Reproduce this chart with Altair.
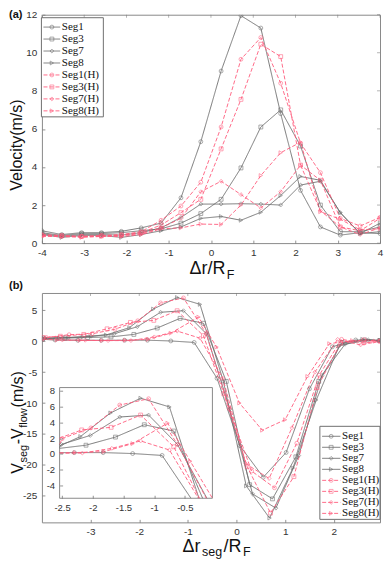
import altair as alt
import pandas as pd

ORDER = ["Seg1", "Seg3", "Seg7", "Seg8", "Seg1(H)", "Seg3(H)", "Seg7(H)", "Seg8(H)"]
GRAY = "#6a6a6a"
RED = "#ff5c7c"
COLORS = [GRAY] * 4 + [RED] * 4
SHAPES = ["circle", "square", "diamond", "triangle-right"] * 2
DASHES = [[1, 0]] * 4 + [[4, 2]] * 4

# ---------------- panel (a) ----------------
XA = [-4, -3.53, -3.06, -2.59, -2.12, -1.65, -1.18, -0.71, -0.24, 0.24, 0.71, 1.18, 1.65, 2.12, 2.59, 3.06, 3.53, 4]
VA_SEG1 = [0.65, 0.45, 0.55, 0.55, 0.62, 0.8, 1.05, 2.38, 5.33, 9.04, 11.95, 11.3, 6.8, 2.77, 0.85, 0.42, 0.55, 0.5]
VA_SEG3 = [0.55, 0.4, 0.5, 0.5, 0.55, 0.65, 0.75, 1.05, 1.55, 2.3, 3.95, 6.1, 7.0, 5.1, 2.0, 0.6, 0.6, 0.85]
VA_SEG7 = [0.5, 0.35, 0.45, 0.45, 0.42, 0.55, 0.8, 1.35, 2.05, 2.05, 2.07, 2.05, 2.0, 3.05, 3.25, 1.6, 0.5, 0.6]
VA_SEG8 = [0.45, 0.3, 0.4, 0.4, 0.3, 0.45, 0.65, 0.85, 1.3, 1.4, 1.2, 1.62, 2.5, 3.5, 3.3, 1.6, 0.5, 1.05]
VA_SEG1H = [0.45, 0.4, 0.35, 0.4, 0.45, 0.6, 1.2, 1.95, 3.2, 6.1, 9.66, 10.8, 8.4, 5.25, 3.7, 1.3, 0.9, 1.35]
VA_SEG3H = [0.4, 0.38, 0.35, 0.38, 0.42, 0.55, 0.95, 1.6, 2.3, 4.95, 7.55, 10.45, 9.8, 4.1, 3.3, 0.85, 0.65, 1.3]
VA_SEG7H = [0.4, 0.35, 0.35, 0.35, 0.4, 0.5, 0.8, 1.3, 2.7, 3.25, 2.55, 1.85, 2.7, 4.1, 1.7, 0.85, 0.45, 0.8]
VA_SEG8H = [0.35, 0.35, 0.3, 0.35, 0.35, 0.45, 0.75, 0.8, 1.0, 0.98, 2.0, 3.55, 4.75, 5.3, 1.65, 1.25, 0.7, 0.75]
XA_TICKS = [-4, -3, -2, -1, 0, 1, 2, 3, 4]
YA_TICKS = [0, 2, 4, 6, 8, 10, 12]
XA_DOM = [-4, 4]
YA_DOM = [0, 12]

# ---------------- panel (b) ----------------
XB_SEG1 = [-3.98, -3.73, -3.26, -2.78, -2.30, -1.83, -1.35, -0.87, -0.40, 0.07, 0.55, 1.02, 1.50, 1.97, 2.45, 2.92]
VB_SEG1 = [0.3, 0.2, 0.15, 0.15, 0.16, 0.16, 0.04, -0.2, -6.0, -16.9, -22.0, -18.0, -7.7, -0.9, 0.2, 0.1]
XB_SEG3 = [-3.98, -3.53, -3.06, -2.58, -2.11, -1.63, -1.16, -0.68, -0.21, 0.27, 0.74, 1.22, 1.69, 2.17, 2.64, 2.95]
VB_SEG3 = [0.5, 0.5, 0.6, 0.7, 1.1, 2.13, 3.7, 2.9, -6.5, -23.2, -25.5, -18.7, -6.5, -0.2, 0.2, 0.1]
XB_SEG7 = [-3.94, -3.46, -2.99, -2.51, -2.04, -1.56, -1.09, -0.62, -0.14, 0.33, 0.81, 1.28, 1.76, 2.23, 2.71, 2.95]
VB_SEG7 = [0.5, 0.6, 0.8, 1.2, 2.34, 4.68, 4.93, 1.2, -11.0, -24.7, -27.0, -18.5, -5.5, -0.5, 0.2, 0.1]
XB_SEG8 = [-3.98, -3.64, -3.16, -2.68, -2.20, -1.71, -1.22, -0.75, -0.27, 0.20, 0.68, 1.16, 1.64, 2.11, 2.59, 2.95]
VB_SEG8 = [0.4, 0.5, 0.7, 1.0, 2.2, 5.2, 7.07, 5.96, -6.5, -23.4, -28.6, -20.5, -9.5, -0.8, 0.3, 0.1]
XB_SEG1H = [-3.91, -3.44, -2.97, -2.50, -2.03, -1.56, -1.09, -0.62, -0.15, 0.31, 0.78, 1.24, 1.70, 2.16, 2.62, 2.95]
VB_SEG1H = [0.6, 1.05, 1.2, 1.93, 3.3, 6.2, 7.0, 1.2, -10.9, -21.0, -23.7, -16.5, -5.5, 0.3, -0.3, 0.0]
XB_SEG3H = [-3.98, -3.62, -3.14, -2.66, -2.18, -1.70, -1.22, -0.68, -0.26, 0.22, 0.70, 1.18, 1.66, 2.14, 2.62, 2.95]
VB_SEG3H = [0.6, 0.8, 1.1, 2.0, 3.04, 3.37, 4.93, 0.9, -8.5, -20.3, -27.8, -21.9, -7.5, -0.3, 0.2, 0.0]
XB_SEG7H = [-3.98, -3.58, -3.11, -2.64, -2.17, -1.69, -1.22, -0.75, -0.28, 0.19, 0.67, 1.14, 1.61, 2.08, 2.55, 2.95]
VB_SEG7H = [0.3, 0.2, 0.15, 0.1, 0.1, 0.7, 1.64, 0.49, -6.0, -19.8, -22.2, -14.0, -5.0, 0.3, -0.6, 0.0]
XB_SEG8H = [-3.69, -3.22, -2.76, -2.29, -1.82, -1.35, -0.78, -0.41, 0.06, 0.53, 1.00, 1.46, 1.91, 2.38, 2.85]
VB_SEG8H = [0.2, 0.15, 0.1, 0.16, 0.28, 1.3, 3.9, -0.95, -10.0, -14.4, -12.7, -5.7, -0.4, 0.1, 0.0]
XB_TICKS = [-3, -2, -1, 0, 1, 2]
YB_TICKS = [-25, -20, -15, -10, -5, 0, 5]
XB_DOM = [-4.0, 2.95]
YB_DOM = [-29.3, 7.8]
# inset (zoom of panel b)
XI_TICKS = [-2.5, -2, -1.5, -1, -0.5]
YI_TICKS = [-4, -2, 0, 2, 4, 6, 8]
XI_DOM = [-2.54, -0.05]
YI_DOM = [-5.64, 8.42]
INSET_BOX = [-3.636, -0.495, -25.4, -7.5]  # frame of the inset in panel-b data units

TOP_V = dict(zip(ORDER, [VA_SEG1, VA_SEG3, VA_SEG7, VA_SEG8, VA_SEG1H, VA_SEG3H, VA_SEG7H, VA_SEG8H]))
BOT_X = dict(zip(ORDER, [XB_SEG1, XB_SEG3, XB_SEG7, XB_SEG8, XB_SEG1H, XB_SEG3H, XB_SEG7H, XB_SEG8H]))
BOT_V = dict(zip(ORDER, [VB_SEG1, VB_SEG3, VB_SEG7, VB_SEG8, VB_SEG1H, VB_SEG3H, VB_SEG7H, VB_SEG8H]))

W1, H1 = 339, 229
W2, H2 = 339, 230


def rows_for(s, xs, vs, idx):
    return [{"series": s, "i": k, "x": xs[k], "v": vs[k]} for k in idx]


top_rows, bot_rows, in_line_rows, in_pt_rows = [], [], [], []
for s in ORDER:
    top_rows += rows_for(s, XA, TOP_V[s], range(len(XA)))
    xs, vs = BOT_X[s], BOT_V[s]
    bot_rows += rows_for(s, xs, vs, range(len(xs)))
    inside = [k for k in range(len(xs)) if XI_DOM[0] <= xs[k] <= XI_DOM[1]]
    keep = []
    for k in range(max(inside[0] - 1, 0), len(xs)):
        if k > inside[-1] + 1:
            break
        if k == inside[-1] + 1 and not (YI_DOM[0] <= vs[inside[-1]] <= YI_DOM[1]):
            break
        keep.append(k)
        if k >= inside[0] and vs[k] < YI_DOM[0]:
            break
    in_line_rows += rows_for(s, xs, vs, keep)
    in_pt_rows += rows_for(s, xs, vs, [k for k in inside if YI_DOM[0] <= vs[k] <= YI_DOM[1]])

top_df = pd.DataFrame(top_rows)
bot_df = pd.DataFrame(bot_rows)
in_line_df = pd.DataFrame(in_line_rows)
in_pt_df = pd.DataFrame(in_pt_rows)
LEG_DF = pd.DataFrame({"series": ORDER})
NOTE = pd.DataFrame({"k": [0]})
TICK_COLOR = "#7a7a7a"


def axis(orient, values, pad=4, offset=-3, z=0, size=10):
    return alt.Axis(
        orient=orient, values=values, title=None, grid=False, domain=False,
        tickSize=3, tickColor=TICK_COLOR, tickWidth=0.8, offset=offset,
        labelFont="Liberation Sans", labelFontSize=size, minExtent=0,
        labelColor="#333", labelPadding=pad, labelFlush=False, labelOverlap=False,
        labelExpr="'' + datum.value", zindex=z,
    )


def text(t, x, y, size, angle=0, align="left", baseline="alphabetic", weight="normal"):
    return alt.Chart(NOTE).mark_text(
        text=t, fontSize=size, angle=angle, align=align, baseline=baseline,
        fontWeight=weight, font="Liberation Sans", color="#111",
    ).encode(x=alt.value(x), y=alt.value(y))


def edge_ticks(xt, yt, xscale, yscale, width):
    """Inward ticks along the top and right frame edges."""
    top_t = alt.Chart(pd.DataFrame({"t": xt})).mark_tick(
        orient="vertical", size=3, thickness=0.8, color=TICK_COLOR
    ).encode(x=alt.X("t:Q", scale=xscale, axis=None), y=alt.value(1.5))
    right_t = alt.Chart(pd.DataFrame({"t": yt})).mark_tick(
        orient="horizontal", size=3, thickness=0.8, color=TICK_COLOR
    ).encode(y=alt.Y("t:Q", scale=yscale, axis=None), x=alt.value(width - 1.5))
    return top_t, right_t


COL = alt.Color("series:N", scale=alt.Scale(domain=ORDER, range=COLORS), legend=None)
DASH = alt.StrokeDash("series:N", scale=alt.Scale(domain=ORDER, range=DASHES), legend=None)
SHAPE = alt.Shape("series:N", scale=alt.Scale(domain=ORDER, range=SHAPES), legend=None)


def series_layers(df_l, df_p, xscale, yscale, xaxis, yaxis):
    lines = alt.Chart(df_l).mark_line(strokeWidth=0.9, clip=True).encode(
        x=alt.X("x:Q", scale=xscale, axis=xaxis),
        y=alt.Y("v:Q", scale=yscale, axis=yaxis),
        color=COL, strokeDash=DASH, order="i:Q",
    )
    pts = alt.Chart(df_p).mark_point(filled=False, size=15, strokeWidth=0.8, clip=True).encode(
        x=alt.X("x:Q", scale=xscale, axis=xaxis),
        y=alt.Y("v:Q", scale=yscale, axis=yaxis),
        color=COL, shape=SHAPE,
    )
    return lines, pts


def legend_layer(box, y_first, y_last, x_line, x_mark, x_label):
    ysc = alt.Scale(type="point", domain=ORDER, range=[y_first, y_last], padding=0)
    yenc = alt.Y("series:N", scale=ysc, axis=None)
    frame = alt.Chart(NOTE).mark_rect(fill="white", stroke="#6f6f6f", strokeWidth=1).encode(
        x=alt.value(box[0]), x2=alt.value(box[1]), y=alt.value(box[2]), y2=alt.value(box[3])
    )
    rules = alt.Chart(LEG_DF).mark_rule(strokeWidth=0.9).encode(
        x=alt.value(x_line[0]), x2=alt.value(x_line[1]), y=yenc, color=COL, strokeDash=DASH
    )
    marks = alt.Chart(LEG_DF).mark_point(filled=False, size=15, strokeWidth=0.8).encode(
        x=alt.value(x_mark), y=yenc, color=COL, shape=SHAPE
    )
    labels = alt.Chart(LEG_DF).mark_text(
        align="left", baseline="middle", font="Liberation Serif", fontSize=11, color="#111"
    ).encode(x=alt.value(x_label), y=yenc, text="series:N")
    return alt.layer(frame, rules, marks, labels)


# ---------------- top chart ----------------
xs_a = alt.Scale(domain=XA_DOM, nice=False, zero=False)
ys_a = alt.Scale(domain=YA_DOM, nice=False, zero=False)
la, pa = series_layers(top_df, top_df, xs_a, ys_a, axis("bottom", XA_TICKS, pad=4), axis("left", YA_TICKS, pad=5))
tt_a, rt_a = edge_ticks(XA_TICKS, YA_TICKS, xs_a, ys_a, W1)
tx_a = W1 / 2 + 14.6
main_a = alt.layer(
    la, pa,
    text("(a)", -33, -5.5, 11, baseline="top", weight="bold"),
    text("Velocity(m/s)", -20, 0.571 * H1, 16, angle=270, align="center"),
    text("\u0394r/R", tx_a, H1 + 31, 18, align="right"),
    text("F", tx_a + 1.2, H1 + 35.5, 12.5),
)
leg_a = legend_layer([-0.5, 61.6, 3, 102.4], 12.4, 96.4, [1.6, 18.3], 10, 20)
top = alt.layer(main_a, tt_a, rt_a, leg_a).resolve_scale(x="independent", y="independent").properties(width=W1, height=H1)

# ---------------- bottom chart ----------------
xs_b = alt.Scale(domain=XB_DOM, nice=False, zero=False)
ys_b = alt.Scale(domain=YB_DOM, nice=False, zero=False)
lb, pb = series_layers(bot_df, bot_df, xs_b, ys_b, axis("bottom", XB_TICKS, pad=4), axis("left", YB_TICKS, pad=5))
tt_b, rt_b = edge_ticks(XB_TICKS, YB_TICKS, xs_b, ys_b, W2)
yb = 0.788 * H2
bx = -18.5
tb = W2 / 2 - 10.5
main_b = alt.layer(
    lb, pb,
    text("(b)", -33, -13, 11, baseline="top", weight="bold"),
    text("V", bx, yb, 16, angle=270),
    text("seg", bx + 3.5, yb - 11.2, 11, angle=270),
    text("-V", bx, yb - 29.5, 16, angle=270),
    text("flow", bx + 3.5, yb - 46.0, 11, angle=270),
    text(" (m/s)", bx, yb - 66.5, 16, angle=270),
    text("\u0394r", tb, H2 + 30, 18, align="right"),
    text("seg", tb + 1.5, H2 + 34, 12.5),
    text("/R", tb + 23.0, H2 + 30, 18),
    text("F", tb + 42.5, H2 + 34, 12.5),
)

IN_L = (INSET_BOX[0] - XB_DOM[0]) / (XB_DOM[1] - XB_DOM[0]) * W2
IN_R = (INSET_BOX[1] - XB_DOM[0]) / (XB_DOM[1] - XB_DOM[0]) * W2
IN_T = (YB_DOM[1] - INSET_BOX[3]) / (YB_DOM[1] - YB_DOM[0]) * H2
IN_B = (YB_DOM[1] - INSET_BOX[2]) / (YB_DOM[1] - YB_DOM[0]) * H2

xs_i = alt.Scale(domain=XI_DOM, range=[IN_L, IN_R], clamp=True, nice=False, zero=False)
ys_i = alt.Scale(domain=YI_DOM, range=[IN_B, IN_T], clamp=True, nice=False, zero=False)
li, pi = series_layers(in_line_df, in_pt_df, xs_i, ys_i,
                       axis("bottom", XI_TICKS, pad=4, offset=IN_B - 3 - H2, z=1, size=9.5),
                       axis("left", YI_TICKS, pad=5, offset=-(IN_L + 3), z=1, size=9.5))
inset_frame = alt.Chart(NOTE).mark_rect(fill="white", stroke="#8a8a8a", strokeWidth=1).encode(
    x=alt.value(IN_L), x2=alt.value(IN_R), y=alt.value(IN_T), y2=alt.value(IN_B)
)
inset = alt.layer(inset_frame, li, pi)
leg_b = legend_layer([W2 - 60.3, W2, H2 - 96.3, H2 - 3], H2 - 86.3, H2 - 9,
                     [W2 - 58, W2 - 39.7], W2 - 49, W2 - 38)

bottom = alt.layer(main_b, tt_b, rt_b, inset, leg_b).resolve_scale(x="independent", y="independent").properties(width=W2, height=H2)

chart = alt.vconcat(top, bottom, spacing=-3).configure_view(
    stroke="#8a8a8a", strokeWidth=1
).properties(padding=0)

chart.save("out.html", embed_options={"renderer": "svg", "actions": False})
